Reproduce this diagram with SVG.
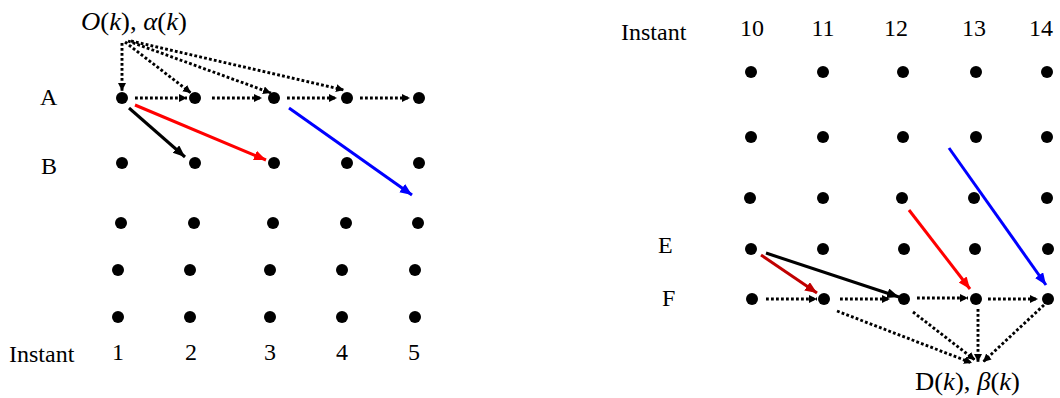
<svg xmlns="http://www.w3.org/2000/svg" width="1060" height="398" viewBox="0 0 1060 398">
  <style>
    .t { font-family: "Liberation Serif", "Times New Roman", serif; font-size: 24px; fill: #000; }
    .m { font-family: "Liberation Serif", "Times New Roman", serif; font-size: 25px; fill: #000; }
    .i { font-style: italic; }
    .dot { fill: #000; }
    .dl { stroke: #000; stroke-width: 2.9; stroke-dasharray: 2.8 2.2; fill: none; marker-end: url(#hd); }
    .s { stroke-width: 3; fill: none; }
  </style>
  <defs>
    <marker id="hd" markerUnits="userSpaceOnUse" markerWidth="10" markerHeight="9" refX="8" refY="4" orient="auto">
      <path d="M0,0 L8,4 L0,8 z" fill="#000"/>
    </marker>
    <marker id="hk" markerUnits="userSpaceOnUse" markerWidth="14" markerHeight="11" refX="12" refY="5" orient="auto">
      <path d="M0,0 L12,5 L0,10 z" fill="#000"/>
    </marker>
    <marker id="hr" markerUnits="userSpaceOnUse" markerWidth="14" markerHeight="11" refX="12" refY="5" orient="auto">
      <path d="M0,0 L12,5 L0,10 z" fill="#ff0000"/>
    </marker>
    <marker id="hb" markerUnits="userSpaceOnUse" markerWidth="14" markerHeight="11" refX="12" refY="5" orient="auto">
      <path d="M0,0 L12,5 L0,10 z" fill="#0000ff"/>
    </marker>
    <marker id="hdr" markerUnits="userSpaceOnUse" markerWidth="14" markerHeight="11" refX="12" refY="5" orient="auto">
      <path d="M0,0 L12,5 L0,10 z" fill="#c00000"/>
    </marker>
  </defs>

  <!-- Left panel labels -->
  <g id="label-source">
    <text class="m" x="81" y="30" textLength="106" lengthAdjust="spacingAndGlyphs"><tspan class="i">O</tspan>(<tspan class="i">k</tspan>), <tspan class="i">α</tspan>(<tspan class="i">k</tspan>)</text>
  </g>
  <g id="label-A"><text class="t" x="40" y="105">A</text></g>
  <g id="label-B"><text class="t" x="41" y="174">B</text></g>
  <g id="label-instant-left">
    <text class="t" x="9" y="362">Instant</text>
    <text class="t" x="118" y="360" text-anchor="middle">1</text>
    <text class="t" x="191" y="360" text-anchor="middle">2</text>
    <text class="t" x="270" y="360" text-anchor="middle">3</text>
    <text class="t" x="342" y="360" text-anchor="middle">4</text>
    <text class="t" x="414" y="360" text-anchor="middle">5</text>
  </g>

  <!-- Left panel nodes -->
  <g id="left-row-A">
    <circle class="dot" cx="122" cy="98" r="6"/>
    <circle class="dot" cx="195" cy="98" r="6"/>
    <circle class="dot" cx="274" cy="98" r="6"/>
    <circle class="dot" cx="347" cy="98" r="6"/>
    <circle class="dot" cx="419" cy="98" r="6"/>
  </g>
  <g id="left-row-B">
    <circle class="dot" cx="122" cy="163" r="6"/>
    <circle class="dot" cx="195" cy="163" r="6"/>
    <circle class="dot" cx="274" cy="163" r="6"/>
    <circle class="dot" cx="347" cy="163" r="6"/>
    <circle class="dot" cx="419" cy="163" r="6"/>
  </g>
  <g id="left-row-3">
    <circle class="dot" cx="121" cy="223" r="6"/>
    <circle class="dot" cx="194" cy="223" r="6"/>
    <circle class="dot" cx="273" cy="223" r="6"/>
    <circle class="dot" cx="346" cy="223" r="6"/>
    <circle class="dot" cx="418" cy="223" r="6"/>
  </g>
  <g id="left-row-4">
    <circle class="dot" cx="118" cy="270" r="6"/>
    <circle class="dot" cx="190" cy="270" r="6"/>
    <circle class="dot" cx="270" cy="270" r="6"/>
    <circle class="dot" cx="342" cy="270" r="6"/>
    <circle class="dot" cx="415" cy="270" r="6"/>
  </g>
  <g id="left-row-5">
    <circle class="dot" cx="118" cy="317" r="6"/>
    <circle class="dot" cx="190" cy="317" r="6"/>
    <circle class="dot" cx="270" cy="317" r="6"/>
    <circle class="dot" cx="342" cy="317" r="6"/>
    <circle class="dot" cx="415" cy="317" r="6"/>
  </g>

  <!-- Right panel labels -->
  <g id="label-instant-right">
    <text class="t" x="621" y="40">Instant</text>
    <text class="t" x="752" y="36" text-anchor="middle">10</text>
    <text class="t" x="823" y="36" text-anchor="middle">11</text>
    <text class="t" x="896" y="36" text-anchor="middle">12</text>
    <text class="t" x="974" y="36" text-anchor="middle">13</text>
    <text class="t" x="1041" y="36" text-anchor="middle">14</text>
  </g>
  <g id="label-E"><text class="t" x="658" y="253">E</text></g>
  <g id="label-F"><text class="t" x="662" y="306">F</text></g>
  <g id="label-sink">
    <text class="m" x="915" y="390" textLength="105" lengthAdjust="spacingAndGlyphs">D(<tspan class="i">k</tspan>), <tspan class="i">β</tspan>(<tspan class="i">k</tspan>)</text>
  </g>

  <!-- Right panel nodes -->
  <g id="right-row-1">
    <circle class="dot" cx="751" cy="72" r="6"/>
    <circle class="dot" cx="823" cy="72" r="6"/>
    <circle class="dot" cx="903" cy="72" r="6"/>
    <circle class="dot" cx="976" cy="72" r="6"/>
    <circle class="dot" cx="1047" cy="72" r="6"/>
  </g>
  <g id="right-row-2">
    <circle class="dot" cx="751" cy="137" r="6"/>
    <circle class="dot" cx="823" cy="137" r="6"/>
    <circle class="dot" cx="903" cy="137" r="6"/>
    <circle class="dot" cx="976" cy="137" r="6"/>
    <circle class="dot" cx="1047" cy="137" r="6"/>
  </g>
  <g id="right-row-3">
    <circle class="dot" cx="750" cy="198" r="6"/>
    <circle class="dot" cx="823" cy="198" r="6"/>
    <circle class="dot" cx="902" cy="198" r="6"/>
    <circle class="dot" cx="974" cy="198" r="6"/>
    <circle class="dot" cx="1047" cy="198" r="6"/>
  </g>
  <g id="right-row-E">
    <circle class="dot" cx="751" cy="249" r="6"/>
    <circle class="dot" cx="823" cy="249" r="6"/>
    <circle class="dot" cx="904" cy="249" r="6"/>
    <circle class="dot" cx="975" cy="249" r="6"/>
    <circle class="dot" cx="1048" cy="249" r="6"/>
  </g>
  <g id="right-row-F">
    <circle class="dot" cx="752" cy="299" r="6"/>
    <circle class="dot" cx="824" cy="299" r="6"/>
    <circle class="dot" cx="904" cy="299" r="6"/>
    <circle class="dot" cx="976" cy="299" r="6"/>
    <circle class="dot" cx="1048" cy="299" r="6"/>
  </g>

  <!-- Connectors -->
  <g id="connectors">
    <!-- left: from O(k), alpha(k) -->
    <line class="dl" x1="122" y1="43" x2="122" y2="91"/>
    <line class="dl" x1="125" y1="42" x2="191" y2="93"/>
    <line class="dl" x1="128" y1="41" x2="271" y2="93"/>
    <line class="dl" x1="131" y1="41" x2="344" y2="90"/>
    <!-- left: row A -->
    <line class="dl" x1="135" y1="98" x2="187" y2="98"/>
    <line class="dl" x1="212" y1="98" x2="262" y2="98"/>
    <line class="dl" x1="287" y1="98" x2="337" y2="98"/>
    <line class="dl" x1="360" y1="98" x2="410" y2="98"/>
    <!-- left solid -->
    <line class="s" stroke="#000" marker-end="url(#hk)" x1="129" y1="108" x2="185" y2="157"/>
    <line class="s" stroke="#ff0000" marker-end="url(#hr)" x1="135" y1="105" x2="266" y2="160"/>
    <line class="s" stroke="#0000ff" marker-end="url(#hb)" x1="289" y1="108" x2="412" y2="195"/>

    <!-- right solid -->
    <line class="s" stroke="#c00000" marker-end="url(#hdr)" x1="761" y1="255" x2="817" y2="293"/>
    <line class="s" stroke="#000" marker-end="url(#hk)" x1="766" y1="253" x2="899" y2="297"/>
    <line class="s" stroke="#ff0000" marker-end="url(#hr)" x1="909" y1="210" x2="970" y2="289"/>
    <line class="s" stroke="#0000ff" marker-end="url(#hb)" x1="949" y1="148" x2="1046" y2="285"/>
    <!-- right: row F -->
    <line class="dl" x1="766" y1="299" x2="817" y2="299"/>
    <line class="dl" x1="840" y1="299" x2="890" y2="299"/>
    <line class="dl" x1="917" y1="298" x2="968" y2="298"/>
    <line class="dl" x1="988" y1="299" x2="1038" y2="299"/>
    <!-- right: to D(k), beta(k) -->
    <line class="dl" x1="837" y1="311" x2="972" y2="363"/>
    <line class="dl" x1="913" y1="312" x2="975" y2="360"/>
    <line class="dl" x1="978" y1="309" x2="978" y2="362"/>
    <line class="dl" x1="1044" y1="305" x2="983" y2="362"/>
  </g>
</svg>
